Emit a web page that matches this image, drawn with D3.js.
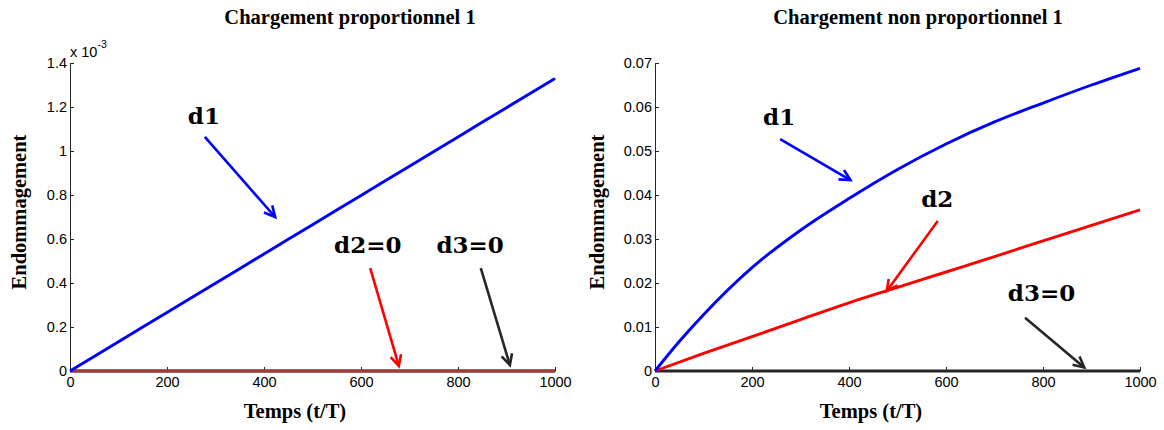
<!DOCTYPE html>
<html><head><meta charset="utf-8">
<script src="https://cdn.jsdelivr.net/npm/d3@7"></script>
<style>body{margin:0;background:#fff}</style>
</head><body><svg id="c" width="1164" height="430"></svg>
<script>
// ---------- DATA ----------
const time = [0,100,200,300,400,500,600,700,800,900,1000];
const xTicks = [0,200,400,600,800,1000];

// Left panel: "Chargement proportionnel 1" (values in units of 10^-3)
const leftD1 = [0,0.133,0.266,0.399,0.532,0.665,0.798,0.931,1.064,1.197,1.33];
const leftD2 = [0,0,0,0,0,0,0,0,0,0,0];
const leftD3 = [0,0,0,0,0,0,0,0,0,0,0];
const leftYTicks = [0,0.2,0.4,0.6,0.8,1,1.2,1.4];

// Right panel: "Chargement non proportionnel 1"
const rightTimeD1 = [0,50,100,200,300,400,500,600,700,800,900,1000];
const rightD1 = [0,0.0067,0.0128,0.0235,0.0320,0.0392,0.0458,0.0516,0.0566,0.0609,0.0650,0.0688];
const rightD2 = [0,0.0040,0.0078,0.0117,0.0155,0.0190,0.0225,0.0260,0.0296,0.0331,0.0366];
const rightD3 = [0,0,0,0,0,0,0,0,0,0,0];
const rightYTicks = [0,0.01,0.02,0.03,0.04,0.05,0.06,0.07];

const titles = ["Chargement proportionnel 1","Chargement non proportionnel 1"];
const xLabel = "Temps (t/T)";
const yLabel = "Endommagement";
const leftAnnotations = [
  {text:"d1", tx:276, ty:1.123, x1:278, y1:1.064, x2:423, y2:0.700, color:"#0000ff"},
  {text:"d2=0", tx:614, ty:0.536, x1:619, y1:0.468, x2:678, y2:0.023, color:"#ff0000"},
  {text:"d3=0", tx:825, ty:0.536, x1:847, y1:0.468, x2:907, y2:0.027, color:"#262626"}
];
const rightAnnotations = [
  {text:"d1", tx:256, ty:0.0559, x1:258, y1:0.0527, x2:403, y2:0.0434, color:"#0000ff"},
  {text:"d2", tx:582, ty:0.0373, x1:583, y1:0.0341, x2:478, y2:0.0182, color:"#ff0000"},
  {text:"d3=0", tx:797, ty:0.0160, x1:763, y1:0.0121, x2:885, y2:0.0008, color:"#262626"}
];

// ---------- DRAW ----------
const svg = d3.select("#c");
const AX = "#262626";
const serif = "'Liberation Serif', serif";
const annFont = "'DejaVu Serif', serif";
const sans = "'Liberation Sans', Arial, sans-serif";

function panel(cfg){
  const x = d3.scaleLinear().domain([0,1000]).range([cfg.x0, cfg.x1]);
  const y = d3.scaleLinear().domain(cfg.yDomain).range([cfg.yBot, cfg.yTop]);
  const g = svg.append("g");

  const xa = g.append("g").attr("transform", `translate(0,${cfg.yBot})`)
    .call(d3.axisBottom(x).tickValues(xTicks).tickSizeInner(-4).tickSizeOuter(0).tickPadding(5.5).tickFormat(d3.format("d")));
  const ya = g.append("g").attr("transform", `translate(${cfg.x0},0)`)
    .call(d3.axisLeft(y).tickValues(cfg.yTicks).tickSizeInner(-4).tickSizeOuter(0).tickPadding(3).tickFormat(cfg.fmt));
  [xa, ya].forEach(a => {
    a.selectAll("path,line").attr("stroke", AX).attr("stroke-width", 1);
    a.selectAll("text").attr("fill", "#000").style("font-family", sans).style("font-size", "14.5px");
  });

  const lineFn = (xs) => d3.line().x((d,i)=>x(xs[i])).y(d=>y(d)).curve(d3.curveMonotoneX);
  cfg.series.forEach(s => {
    g.append("path").datum(s.values)
      .attr("d", lineFn(s.t))
      .attr("fill","none").attr("stroke", s.color).attr("stroke-width", 2.9)
      .attr("stroke-linejoin","round");
  });

  cfg.ann.forEach(a => {
    g.append("text").attr("x", x(a.tx)).attr("y", y(a.ty))
      .attr("text-anchor","middle").style("font-family", annFont).style("font-weight","bold")
      .style("font-size","23px").attr("fill","#000").text(a.text);
    const X1=x(a.x1), Y1=y(a.y1), X2=x(a.x2), Y2=y(a.y2);
    g.append("line").attr("x1",X1).attr("y1",Y1).attr("x2",X2).attr("y2",Y2)
      .attr("stroke",a.color).attr("stroke-width",2.6);
    const ang = Math.atan2(Y1-Y2, X1-X2), L = 12, h = 27*Math.PI/180;
    const p = [[X2+L*Math.cos(ang+h), Y2+L*Math.sin(ang+h)],[X2,Y2],[X2+L*Math.cos(ang-h), Y2+L*Math.sin(ang-h)]];
    g.append("path").attr("d", d3.line()(p)).attr("fill","none")
      .attr("stroke",a.color).attr("stroke-width",2.6).attr("stroke-linejoin","miter");
  });

  g.append("text").attr("x", cfg.titleX).attr("y", 24).attr("text-anchor","middle")
    .style("font-family", serif).style("font-weight","bold").style("font-size","20.5px").text(cfg.title);
  g.append("text").attr("x", cfg.xLabelX).attr("y", 418).attr("text-anchor","middle")
    .style("font-family", serif).style("font-weight","bold").style("font-size","20.5px").text(xLabel);
  g.append("text").attr("transform", `translate(${cfg.yLabelX},212) rotate(-90)`).attr("text-anchor","middle")
    .style("font-family", serif).style("font-weight","bold").style("font-size","20.5px").text(yLabel);
  return {x,y,g};
}

const L = panel({
  x0:70, x1:555, yTop:63, yBot:371, yDomain:[0,1.4], yTicks:leftYTicks,
  fmt: d => d===0 ? "0" : d3.format(".1f")(d).replace(/\.0$/,""),
  series:[
    {t:time, values:leftD3, color:"#262626"},
    {t:time, values:leftD2, color:"#a33b3b"},
    {t:time, values:leftD1, color:"#0000ff"}
  ],
  ann:leftAnnotations, title:titles[0], titleX:350, xLabelX:295, yLabelX:26
});
const ex = L.g.append("text").attr("x",70).attr("y",57).style("font-family",sans).style("font-size","14.5px").attr("fill","#000");
ex.append("tspan").text("x 10");
ex.append("tspan").attr("dy",-9).style("font-size","10.5px").text("-3");

panel({
  x0:655, x1:1140, yTop:63, yBot:371, yDomain:[0,0.07], yTicks:rightYTicks,
  fmt: d => d===0 ? "0" : d3.format(".2f")(d),
  series:[
    {t:time, values:rightD3, color:"#262626"},
    {t:time, values:rightD2, color:"#ff0000"},
    {t:rightTimeD1, values:rightD1, color:"#0000ff"}
  ],
  ann:rightAnnotations, title:titles[1], titleX:918, xLabelX:871, yLabelX:604
});
</script></body></html>
